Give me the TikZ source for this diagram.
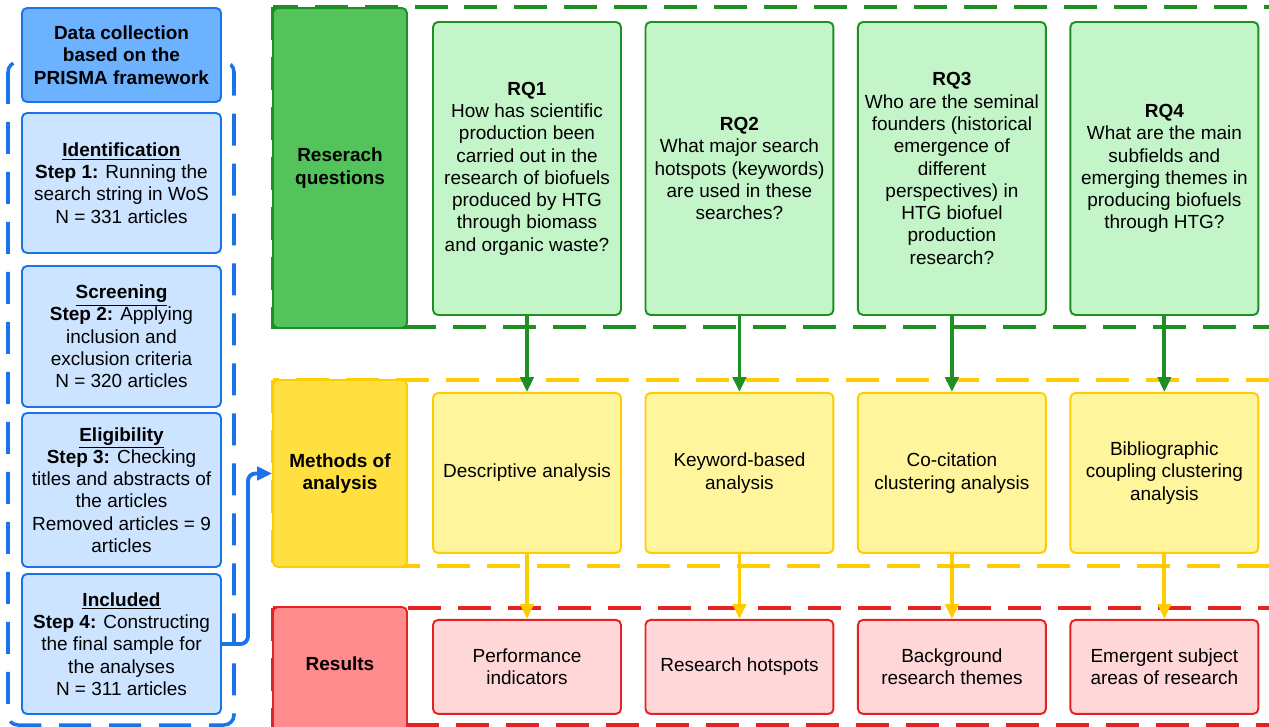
\documentclass[tikz,border=0pt]{standalone}
\usepackage{fontspec}
\setmainfont{Liberation Sans}
\usetikzlibrary{arrows.meta,positioning}

\definecolor{gline}{HTML}{1E8F24}
\definecolor{gfill}{HTML}{C3F5C8}
\definecolor{gdark}{HTML}{55C35B}
\definecolor{yline}{HTML}{FFCC00}
\definecolor{yfill}{HTML}{FFF59D}
\definecolor{ydark}{HTML}{FFE040}
\definecolor{rline}{HTML}{E52222}
\definecolor{rfill}{HTML}{FFD7D9}
\definecolor{rdark}{HTML}{FF8C8C}
\definecolor{bline}{HTML}{1A73E8}
\definecolor{bfill}{HTML}{CCE4FF}
\definecolor{bdark}{HTML}{6CB2FF}

\tikzstyle{box} = [rectangle, rounded corners=1mm, line width=1.1pt, text centered, align=center, inner sep=0pt]
\tikzstyle{rq} = [box, fill = gfill, draw = gline, minimum width = 3.76cm, minimum height = 5.86cm]
\tikzstyle{meth} = [box, fill = yfill, draw = yline, minimum width = 3.76cm, minimum height = 3.2cm]
\tikzstyle{res} = [box, fill = rfill, draw = rline, minimum width = 3.76cm, minimum height = 1.88cm]
\tikzstyle{lab} = [box, minimum width = 2.68cm, font=\fontsize{10.8}{12.7}\selectfont\bfseries]
\tikzstyle{prisma} = [box, fill = bfill, draw = bline, minimum width = 3.98cm]
\tikzstyle{gdash} = [line width=2pt, draw = gline, dash pattern=on 0.66cm off 0.34cm]
\tikzstyle{ydash} = [line width=2pt, draw = yline, dash pattern=on 0.66cm off 0.34cm]
\tikzstyle{rdash} = [line width=2pt, draw = rline, dash pattern=on 0.66cm off 0.34cm]
\tikzstyle{bdash} = [line width=2pt, draw = bline, rounded corners=2mm, dash pattern=on 0.64cm off 0.36cm]
\tikzstyle{garrow} = [line width=2.2pt, -{Triangle[width=7.5pt,length=8.5pt]}, draw = gline]
\tikzstyle{yarrow} = [line width=2.2pt, -{Triangle[width=7.5pt,length=8.5pt]}, draw = yline]
\tikzstyle{barrow} = [line width=2.2pt, -{Triangle[width=7.5pt,length=8.5pt]}, draw = bline, rounded corners=1.5mm]

\begin{document}
\begin{tikzpicture}[x=0.02cm, y=-0.02cm, node distance = 4.25cm, font=\fontsize{10.8}{12.7}\selectfont]
    	\useasboundingbox (0,0) rectangle (1269,727);
    	\clip (0,0) rectangle (1269,727);
    	% dashed frames
    	\draw[bdash] (8,62) rectangle (234,725);
    	\draw[gdash] (273,7) rectangle (1290,327);
    	\draw[ydash] (273,380) rectangle (1290,566);
    	\draw[rdash] (273,608) rectangle (1290,725);
    	% left column
    	\node(header)[prisma, fill = bdark, minimum height = 1.88cm, font=\fontsize{10.8}{12.7}\selectfont\bfseries] at (121.5,55) {Data collection\\based on the\\PRISMA framework};
    	\node(ident)[prisma, minimum height = 2.8cm] at (121.5,183) {\underline{\textbf{Identification}}\\\textbf{Step 1:} Running the\\search string in WoS\\N = 331 articles};
    	\node(screen)[prisma, minimum height = 2.82cm] at (121.5,336.5) {\underline{\textbf{Screening}}\\\textbf{Step 2:} Applying\\inclusion and\\exclusion criteria\\N = 320 articles};
    	\node(elig)[prisma, minimum height = 3.08cm] at (121.5,490) {\underline{\textbf{Eligibility}}\\\textbf{Step 3:} Checking\\titles and abstracts of\\the articles\\Removed articles = 9\\articles};
    	\node(incl)[prisma, minimum height = 2.8cm] at (121.5,644) {\underline{\textbf{Included}}\\\textbf{Step 4:} Constructing\\the final sample for\\the analyses\\N = 311 articles};
    	% row labels
    	\node(questions)[lab, fill = gdark, draw = gline, minimum height = 6.4cm] at (340,168) {Reserach\\questions};
    	\node(methods)[lab, fill = ydark, draw = yline, minimum height = 3.74cm] at (340,473.5) {Methods of\\analysis};
    	\node(results)[lab, fill = rdark, draw = rline, minimum height = 2.76cm, text depth = 0.5cm] at (340,676) {Results};
    	% research questions
    	\node(rq1)[rq] at (527,168.5) {\textbf{RQ1}\\How has scientific\\production been\\carried out in the\\research of biofuels\\produced by HTG\\through biomass\\and organic waste?};
    	\node(rq2)[rq, right of = rq1] {\textbf{RQ2}\\What major search\\hotspots (keywords)\\are used in these\\searches?};
    	\node(rq3)[rq, right of = rq2] {\textbf{RQ3}\\Who are the seminal\\founders (historical\\emergence of\\different\\perspectives) in\\HTG biofuel\\production\\research?};
    	\node(rq4)[rq, right of = rq3] {\textbf{RQ4}\\What are the main\\subfields and\\emerging themes in\\producing biofuels\\through HTG?};
    	% methods
    	\node(descriptive)[meth, below of = rq1, yshift = -1.84cm] {Descriptive analysis};
    	\node(keyword)[meth, below of = rq2, yshift = -1.84cm] {Keyword-based\\analysis};
    	\node(cocitation)[meth, below of = rq3, yshift = -1.84cm] {Co-citation\\clustering analysis};
    	\node(coupling)[meth, below of = rq4, yshift = -1.84cm] {Bibliographic\\coupling clustering\\analysis};
    	% results
    	\node(performance)[res, below of = descriptive, yshift = 0.37cm] {Performance\\indicators};
    	\node(hotspots)[res, below of = keyword, yshift = 0.37cm] {Research hotspots};
    	\node(background)[res, below of = cocitation, yshift = 0.37cm] {Background\\research themes};
    	\node(emergent)[res, below of = coupling, yshift = 0.37cm] {Emergent subject\\areas of research};
        \draw[garrow] (rq1) -- (descriptive);
        \draw[garrow] (rq2) -- (keyword);
        \draw[garrow] (rq3) -- (cocitation);
        \draw[garrow] (rq4) -- (coupling);
        \draw[yarrow] (descriptive) -- (performance);
        \draw[yarrow] (keyword) -- (hotspots);
        \draw[yarrow] (cocitation) -- (background);
        \draw[yarrow] (coupling) -- (emergent);
        \draw[barrow] (incl.east) -- ++(26,0) |- (methods.west);
    \end{tikzpicture}
\end{document}
